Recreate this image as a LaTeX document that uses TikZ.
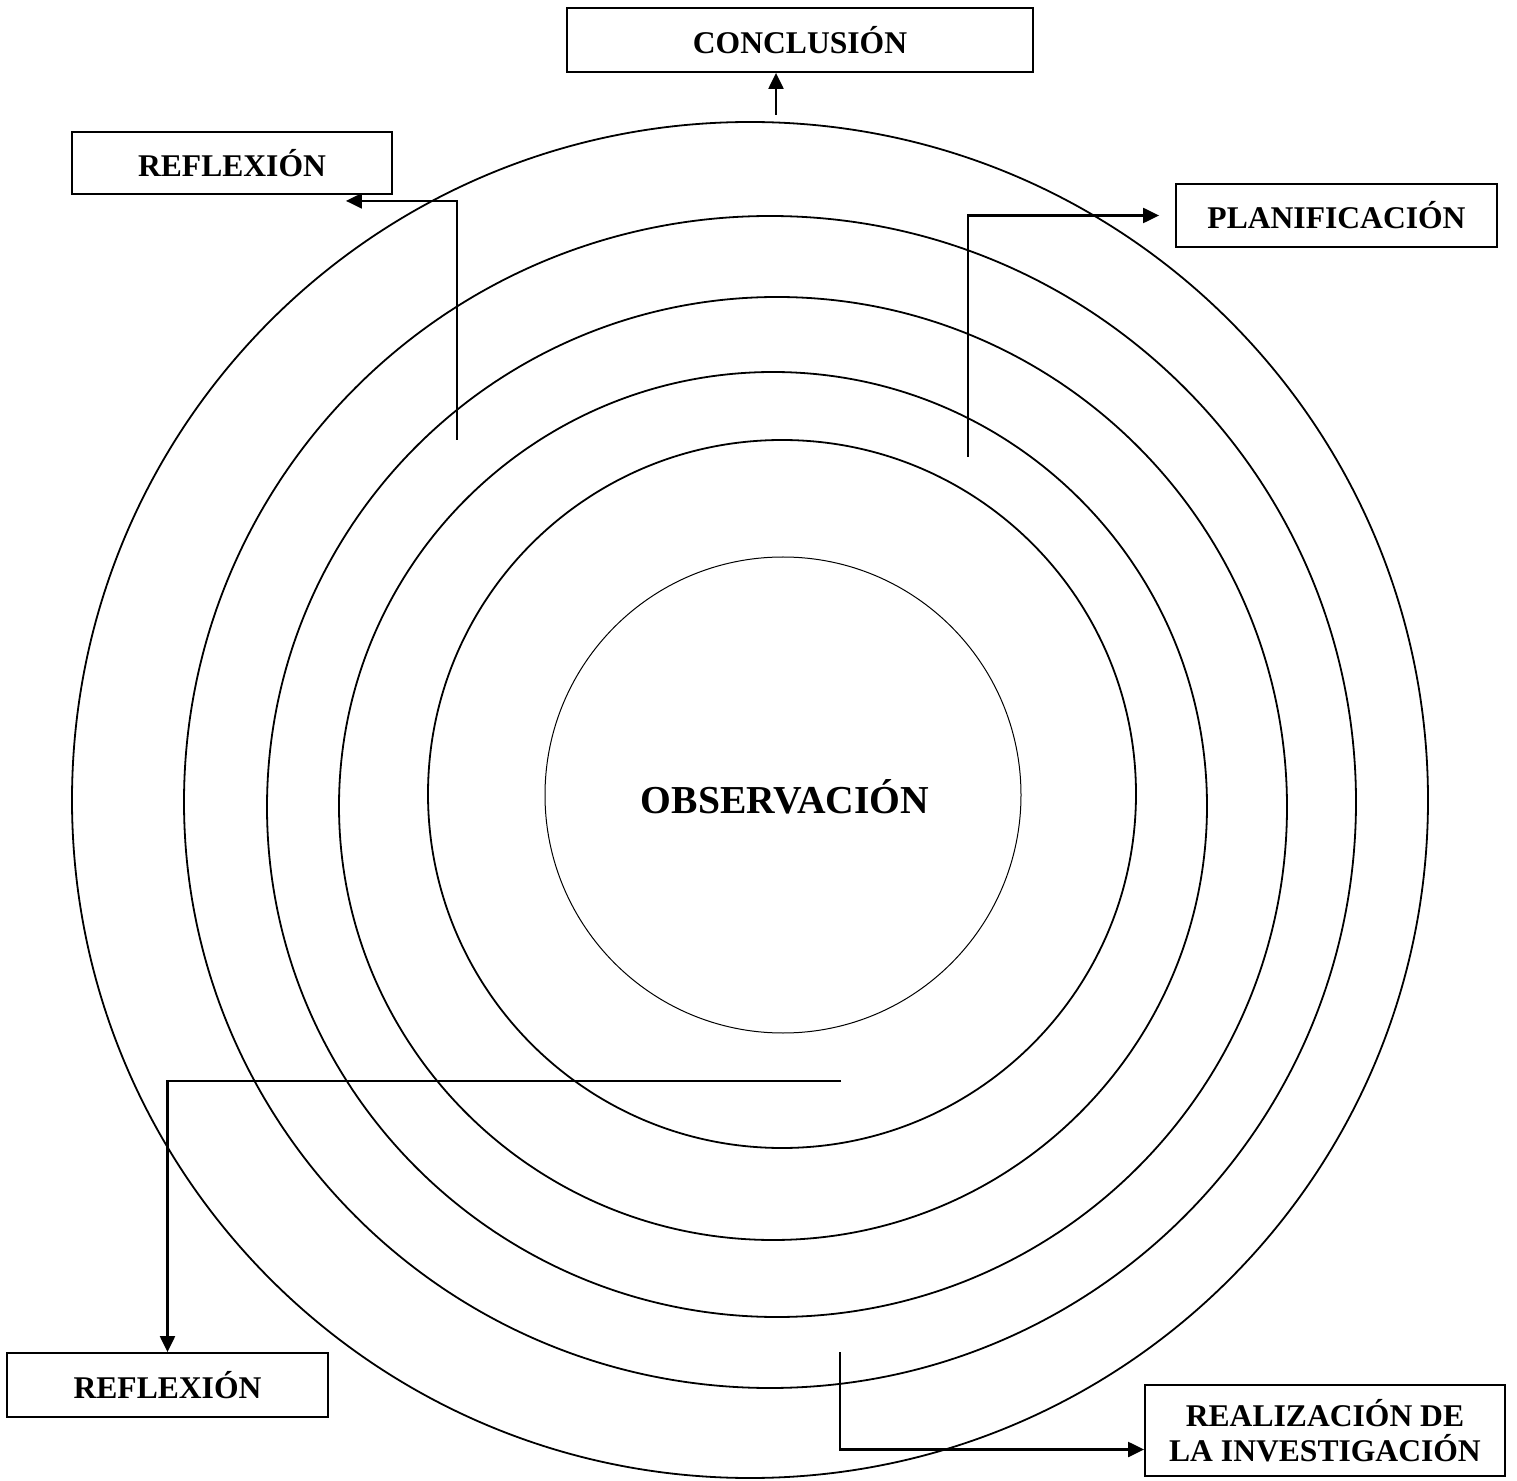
\documentclass[tikz,border=0pt]{standalone}
\usepackage{fontspec}
\setmainfont{Liberation Serif}
\usetikzlibrary{arrows.meta}

\begin{document}
\begin{tikzpicture}[x=0.5pt, y=-0.5pt,
		box/.style={draw, line width=0.9pt, inner sep=0pt, align=center,
			font=\fontsize{15.8}{17.5}\selectfont\bfseries},
		arr/.style={line width=1.1pt, -{Triangle[length=8pt, width=7.5pt]}}]
			%%%%% START %%%%%
			\useasboundingbox (0, 0) rectangle (1517, 1481);
			
			% rings
			\draw[line width=0.9pt] (750, 800) circle (339pt);
			\draw[line width=0.9pt] (770, 802) circle (293pt);
			\draw[line width=0.9pt] (777, 807) circle (255pt);
			\draw[line width=0.9pt] (773, 806) circle (217pt);
			\draw[line width=0.9pt] (782, 794) circle (177pt);
			\draw[line width=0.5pt] (783, 795) circle (119pt);
			
			\node[font=\fontsize{19.8}{22}\selectfont\bfseries] (obs) at (785, 797) {OBSERVACIÓN};
			
			% boxes
			\node[box, minimum width=233pt, minimum height=32pt] (concl) at (800, 40) {CONCLUSIÓN};
			\node[box, minimum width=160pt, minimum height=31pt] (reflA) at (232, 163) {REFLEXIÓN};
			\node[box, minimum width=160.5pt, minimum height=31.5pt] (plan) at (1336.5, 215.5) {PLANIFICACIÓN};
			\node[box, minimum width=160.5pt, minimum height=32pt] (reflB) at (167.5, 1385) {REFLEXIÓN};
			\node[box, minimum width=180pt, minimum height=45.5pt] (real) at (1325, 1430.5) {REALIZACIÓN DE\\LA INVESTIGACIÓN};
			
			% free ends of the connectors
			\coordinate (cA) at (776, 115);
			\coordinate (rA) at (457, 440);
			\coordinate (pA) at (968, 457);
			\coordinate (rB) at (841, 1081);
			\coordinate (dA) at (840, 1352);
			
			\draw[arr] (cA) -- (cA |- concl.south);
			\draw[arr] (rA) |- ([xshift=-23.5pt, yshift=-3pt]reflA.south east);
			\draw[arr] (pA) |- ([xshift=-8pt]plan.west);
			\draw[arr] (rB) -| (reflB.north);
			\draw[arr] (dA) |- ([yshift=-9.5pt]real.west);
			
			%%%%% END %%%%%
\end{tikzpicture}
\end{document}
